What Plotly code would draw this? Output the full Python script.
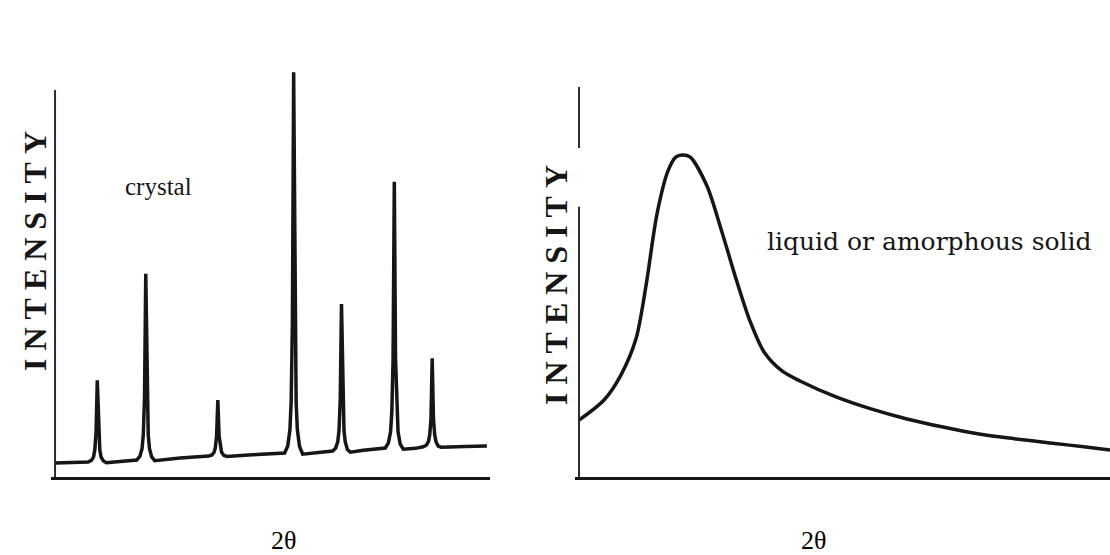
import plotly.graph_objects as go

W, H = 1110, 555

# ---------------- data (2θ in degrees, intensity in arbitrary units) ----------------
crystal_2theta = [
    10.0, 13.0,
    15.35, 15.85, 16.2, 16.4, 16.6, 16.8, 17.0, 17.2, 17.4, 17.75, 18.25,
    20.5,
    23.15, 23.65, 24.0, 24.2, 24.4, 24.6, 24.8, 25.0, 25.2, 25.55, 26.05,
    30.1,
    34.75, 35.25, 35.6, 35.8, 36.0, 36.2, 36.4, 36.6, 36.8, 37.15, 37.65,
    42.5,
    46.95, 47.45, 47.8, 48.0, 48.2, 48.4, 48.6, 48.8, 49.0, 49.35, 49.85,
    52.5,
    54.65, 55.15, 55.5, 55.7, 55.9, 56.1, 56.3, 56.5, 56.7, 57.05, 57.55,
    59.6,
    63.15, 63.65, 64.0, 64.2, 64.4, 64.6, 64.8, 65.0, 65.2, 65.55, 66.05,
    68.0,
    69.25, 69.75, 70.1, 70.3, 70.5, 70.7, 70.9, 71.1, 71.3, 71.65, 72.15,
    76.0, 79.5,
]
crystal_intensity = [
    3.6, 3.8,
    3.9, 4.3, 5.2, 7.0, 11.5, 25.0, 11.5, 7.0, 5.2, 4.2, 3.7,
    4.1,
    4.4, 5.3, 7.3, 10.8, 20.5, 52.5, 20.5, 10.8, 7.3, 5.2, 4.2,
    4.9,
    5.4, 5.7, 6.4, 7.6, 10.6, 19.9, 10.6, 7.6, 6.4, 5.6, 5.3,
    5.8,
    6.2, 8.0, 12.2, 19.4, 40.0, 104.6, 40.0, 19.4, 12.2, 7.9, 5.9,
    6.3,
    6.7, 7.4, 9.1, 12.0, 20.0, 44.7, 20.0, 12.0, 9.1, 7.1, 6.4,
    6.9,
    7.5, 8.8, 11.7, 16.8, 30.5, 76.3, 30.5, 16.8, 11.7, 8.5, 7.2,
    7.4,
    7.8, 8.2, 9.2, 10.9, 15.0, 30.7, 15.0, 10.9, 9.2, 8.0, 7.7,
    7.9, 8.0,
]

amorphous_2theta = [
    10.0, 13.3, 15.54, 17.51, 18.83, 20.28, 21.73, 22.79, 23.58, 24.63,
    26.87, 28.72, 30.70, 32.54, 34.39, 36.76, 39.13, 43.88, 48.49, 53.24,
    57.98, 62.73, 67.34, 72.09, 76.83, 80.0,
]
amorphous_intensity = [
    14.7, 19.9, 26.4, 35.7, 49.4, 68.0, 79.1, 82.7, 83.2, 82.7,
    75.2, 64.1, 51.2, 40.3, 32.3, 27.4, 24.8, 20.7, 17.6, 15.0,
    12.9, 11.1, 9.9, 8.8, 7.75, 7.0,
]

# vertical axis line extents (intensity units)
left_axis_span = [0, 100]
right_axis_spans = [[0, 69.8], [85.0, 100.8]]

panel_labels = ["crystal", "liquid or amorphous solid"]
x_title = "2θ"
y_title = "INTENSITY"

INK = "#161616"
SERIF = "Liberation Serif, Times New Roman, serif"

# ---------------- figure ----------------
def py(p):
    return 1 - p / H

fig = go.Figure()
fig.add_trace(go.Scatter(x=crystal_2theta, y=crystal_intensity, mode="lines",
                         line=dict(color=INK, width=3.5), xaxis="x", yaxis="y",
                         showlegend=False, hoverinfo="skip"))
fig.add_trace(go.Scatter(x=amorphous_2theta, y=amorphous_intensity, mode="lines",
                         line=dict(color=INK, width=3.5, shape="spline", smoothing=0.8),
                         xaxis="x2", yaxis="y2", showlegend=False, hoverinfo="skip"))

axis_common = dict(showgrid=False, zeroline=False, showticklabels=False, ticks="")
ydom = [py(477), py(477 - 110 * 3.87)]

fig.update_layout(
    width=W, height=H,
    margin=dict(l=0, r=0, t=0, b=0),
    paper_bgcolor="white", plot_bgcolor="white",
    xaxis=dict(domain=[51 / W, 490 / W], range=[9.35, 80], anchor="y",
               showline=True, linewidth=3, linecolor=INK, **axis_common),
    yaxis=dict(domain=ydom, range=[0, 110], anchor="x", showline=False, **axis_common),
    xaxis2=dict(domain=[575 / W, 1.0], range=[9.47, 80], anchor="y2",
                showline=True, linewidth=3, linecolor=INK, **axis_common),
    yaxis2=dict(domain=ydom, range=[0, 110], anchor="x2", showline=False, **axis_common),
)

shapes = [dict(type="line", xref="x", yref="y", x0=10, x1=10,
               y0=left_axis_span[0], y1=left_axis_span[1],
               line=dict(color="#2a2a3a", width=2))]
for s in right_axis_spans:
    shapes.append(dict(type="line", xref="x2", yref="y2", x0=10, x1=10, y0=s[0], y1=s[1],
                       line=dict(color="#2a2a3a", width=2)))
fig.update_layout(shapes=shapes)

spaced = "\u2005".join(list(y_title))
ann = []
base = dict(xref="paper", yref="paper", showarrow=False, xanchor="center", yanchor="middle")
ann.append(dict(text=panel_labels[0], x=158 / W, y=py(186),
                font=dict(family=SERIF, size=25, color=INK), **base))
ann.append(dict(text=panel_labels[1], x=929 / W, y=py(241),
                font=dict(family="DejaVu Serif, serif", size=25, color=INK), **base))
for cx, cy in [(35, 251), (556, 285)]:
    ann.append(dict(text=spaced, x=cx / W, y=py(cy), textangle=-90,
                    font=dict(family=SERIF, size=32, color=INK, weight="bold"), **base))
for cx in [283, 813]:
    ann.append(dict(text=x_title, x=cx / W, y=py(540),
                    font=dict(family=SERIF, size=26, color="#000"), **base))
fig.update_layout(annotations=ann)

fig.write_html("out.html", config={"displayModeBar": False},
               post_script="document.body.style.margin='0';")
